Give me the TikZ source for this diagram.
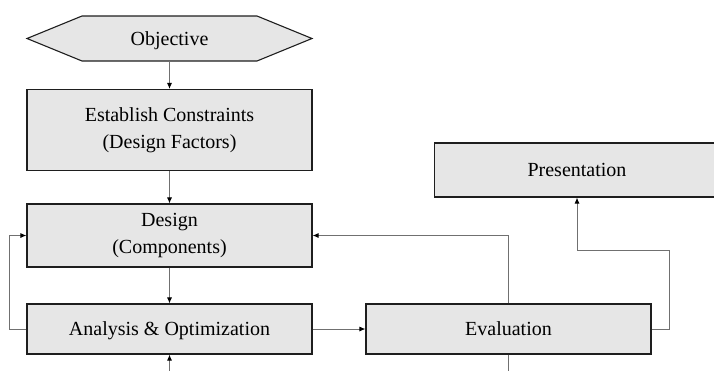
\documentclass[tikz,border=0pt]{standalone}
\usepackage{fontspec}
\setmainfont{Liberation Serif}
\usetikzlibrary{arrows.meta}
\definecolor{boxfill}{HTML}{E6E6E6}
\definecolor{boxline}{HTML}{1E1E1E}
\definecolor{conncol}{HTML}{707070}
\begin{document}
\begin{tikzpicture}[x=1pt,y=-1pt,
  box/.style={draw=boxline, fill=boxfill, line width=1.1pt, inner sep=0pt, align=center,
    minimum width=285pt, font=\rmfamily\fontsize{20}{27}\selectfont},
  oneline/.style={text height=13.2pt, text depth=0pt},
  plain/.style={inner sep=0pt, align=center, minimum width=285pt, font=\rmfamily\fontsize{20}{27}\selectfont},
  conn/.style={draw=conncol, line width=0.9pt},
  arr/.style={conn, -{Latex[length=6pt,width=5pt,color=black]}}]
\useasboundingbox (0,0) rectangle (714,370);
\clip (0,0) rectangle (714,370);
% hexagon
\filldraw[fill=boxfill, draw=boxline, line width=1.1pt] (27,38.5) -- (82,16) -- (257,16) -- (312,38.5) -- (257,61) -- (82,61) -- cycle;
\node[plain, oneline, minimum height=45pt] (obj) at (169.5,38.5) {Objective};
\node[box, minimum height=81pt] (est) at (169.5,130) {Establish Constraints\\(Design Factors)};
\node[box, minimum height=63pt] (des) at (169.5,235.5) {Design\\(Components)};
\node[box, oneline, minimum height=50pt] (ana) at (169.5,329) {Analysis \& Optimization};
\node[box, oneline, minimum height=50pt] (eva) at (508.5,329) {Evaluation};
\node[box, oneline, minimum height=54pt] (pre) at (577,170) {Presentation};
\coordinate (b1) at (169.5,372);
\coordinate (b2) at (508.5,372);
% connectors
\draw[arr] (obj.south) -- (est.north);
\draw[arr] (est.south) -- (des.north);
\draw[arr] (des.south) -- (ana.north);
\draw[arr] (ana.west) -- ++(-17,0) |- (des.west);
\draw[arr] (b1) -- (ana.south);
\draw[arr] (ana.east) -- (eva.west);
\draw[arr] (eva.north) |- (des.east);
\draw[conn] (eva.south) -- (b2);
\draw[arr] (eva.east) -- ++(18,0) |- (577,250) -- (pre.south);
\end{tikzpicture}
\end{document}
